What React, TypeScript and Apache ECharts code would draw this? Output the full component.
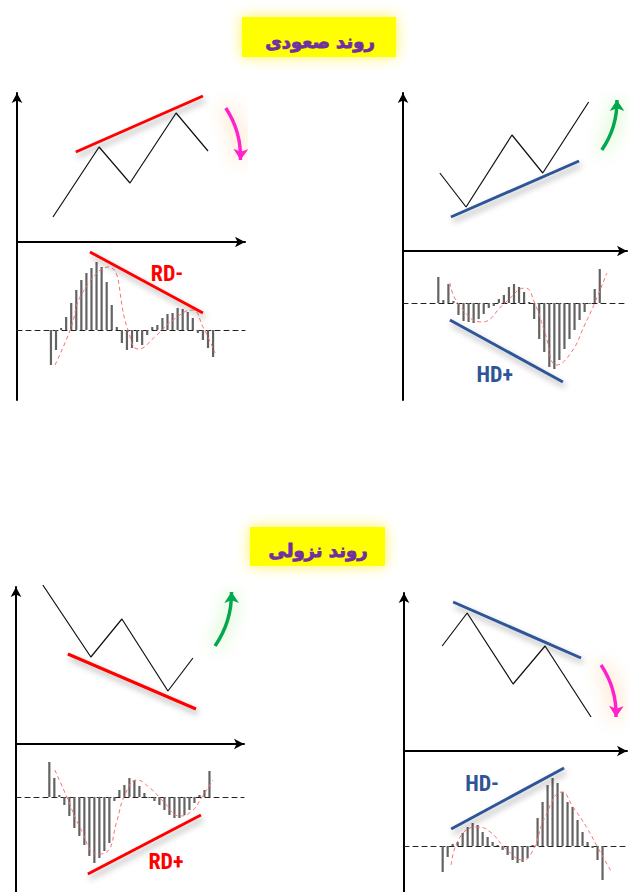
import React, { useEffect, useRef } from 'react';
import * as echarts from 'echarts';

// ---------- Panel 1 : uptrend, regular bearish divergence (RD-) ----------
const PRICE1_X = [0.4, 9.5, 15.6, 24.7, 31.0];
const PRICE1_Y = [25, 95, 59, 129, 91];
const TREND1_X = [4.9, 30.0];
const TREND1_Y = [90, 146];
const HIST1 = [-35, -20, 2, 13, 27, 40, 50, 57, 62, 68, 63, 48, 25, 3, -13, -20, -18, -12, -15, -5, 3, 5, 12, 16, 17, 22, 21, 18, 12, -3, -10, -18, -27];
const CURVE1_X = [0.8, 3.8, 6.3, 11.3, 15.2, 17.2, 20.9, 24.1, 27.9, 30.0, 32.4];
const CURVE1_Y = [-35, 0, 38, 63, 0, -19, -5, 10, 20, 3, -23];
const DIV1_X = [7.7, 30.0];
const DIV1_Y = [78, 17];
const ARROW1_X = [34.5, 37.4];
const ARROW1_Y = [134, 82];
const LABEL1 = { text: 'RD-', x: 22.9, y: 57 };

// ---------- Panel 2 : uptrend, hidden bullish divergence (HD+) ----------
const PRICE2_X = [0.3, 5.5, 14.6, 20.7, 29.8];
const PRICE2_Y = [78, 44, 116, 78, 149];
const TREND2_X = [2.5, 27.9];
const TREND2_Y = [34, 90];
const HIST2 = [26, 3, 19, 2, -12, -18, -19, -20, -16, -11, -5, -3, 4, 8, 16, 19, 16, 11, 1, -16, -36, -49, -64, -66, -57, -46, -36, -27, -17, -9, -1, 14, 34];
const CURVE2_X = [2.3, 3.9, 8.6, 13.2, 17.2, 19.1, 21.1, 23.5, 26.4, 29.0, 31.0, 33.4];
const CURVE2_Y = [20, 0, -19, 0, 15, 0, -29, -62, -49, -22, 0, 30];
const DIV2_X = [2.3, 24.7];
const DIV2_Y = [-17, -79];
const ARROW2_X = [32.4, 35.4];
const ARROW2_Y = [101, 151];
const LABEL2 = { text: 'HD+', x: 11.2, y: -71 };

// ---------- Panel 3 : downtrend, regular bullish divergence (RD+) ----------
const PRICE3_X = [-1.3, 8.3, 14.5, 23.7, 28.7];
const PRICE3_Y = [159, 87, 125, 53, 86];
const TREND3_X = [3.7, 29.3];
const TREND3_Y = [90, 35];
const HIST3 = [35, 19, 2, -8, -19, -31, -39, -48, -59, -66, -61, -54, -46, -4, 7, 12, 19, 17, 11, 4, -1, -4, -8, -13, -18, -21, -21, -18, -13, -6, 2, 7, 26];
const CURVE3_X = [1.1, 3.5, 6.1, 9.7, 11.5, 13.5, 15.1, 17.5, 20.1, 22.7, 26.1, 28.5, 30.5, 32.7];
const CURVE3_Y = [27, 0, -30, -57, -55, -24, 2, 17, 9, -4, -19, -14, 0, 17];
const DIV3_X = [7.7, 30.3];
const DIV3_Y = [-77, -18];
const ARROW3_X = [33.1, 36.4];
const ARROW3_Y = [98, 152];
const LABEL3 = { text: 'RD+', x: 23.3, y: -64 };

// ---------- Panel 4 : downtrend, hidden bearish divergence (HD-) ----------
const PRICE4_X = [-0.1, 4.9, 14.1, 20.5, 29.7];
const PRICE4_Y = [105, 138, 67, 105, 34];
const TREND4_X = [2.1, 27.7];
const TREND4_Y = [149, 93];
const HIST4 = [-26, -11, 2, 4, 13, 19, 23, 21, 14, 9, 4, 1, -4, -9, -14, -17, -16, -12, 1, 28, 44, 61, 68, 63, 54, 44, 39, 26, 14, 4, -2, -14, -34];
const CURVE4_X = [1.7, 3.5, 6.9, 9.5, 12.9, 16.1, 18.1, 20.5, 23.9, 26.1, 28.9, 31.1, 33.9];
const CURVE4_Y = [-19, 9, 19, 14, -4, -14, -4, 29, 54, 39, 18, -2, -27];
const DIV4_X = [1.7, 24.3];
const DIV4_Y = [17, 78];
const ARROW4_X = [31.7, 34.7];
const ARROW4_Y = [86, 34];
const LABEL4 = { text: 'HD-', x: 7.9, y: 63 };

const TITLES = ['روند صعودی', 'روند نزولی'];

const RED = '#ff0000';
const BLUE = '#2f5597';
const PINK = '#ff22cc';
const GREEN = '#00a84f';

const zip = (xs: number[], ys: number[]) => xs.map((x, i) => [x, ys[i]]);

const PANELS = [
  {
    layout: { left: 17, axisEnd: 250, tip: 88, mid: 242, bottom: 400 },
    xMin: -6.7, xMax: 38.3, upMax: 149, lowMin: -70, lowMax: 88,
    price: zip(PRICE1_X, PRICE1_Y), trend: zip(TREND1_X, TREND1_Y), hist: HIST1,
    curve: zip(CURVE1_X, CURVE1_Y), div: zip(DIV1_X, DIV1_Y), arrow: zip(ARROW1_X, ARROW1_Y),
    label: LABEL1, lineColor: RED, arrowColor: PINK, glow: 'rgba(255,160,60,0.95)', curveness: 0.16,
  },
  {
    layout: { left: 403, axisEnd: 632, tip: 88, mid: 251, bottom: 400 },
    xMin: -7.0, xMax: 37.4, upMax: 158, lowMin: -97, lowMax: 52,
    price: zip(PRICE2_X, PRICE2_Y), trend: zip(TREND2_X, TREND2_Y), hist: HIST2,
    curve: zip(CURVE2_X, CURVE2_Y), div: zip(DIV2_X, DIV2_Y), arrow: zip(ARROW2_X, ARROW2_Y),
    label: LABEL2, lineColor: BLUE, arrowColor: GREEN, glow: 'rgba(130,230,100,0.95)', curveness: -0.16,
  },
  {
    layout: { left: 16, axisEnd: 249, tip: 582, mid: 744, bottom: 892 },
    xMin: -6.66, xMax: 38.9, upMax: 157, lowMin: -95, lowMax: 53,
    price: zip(PRICE3_X, PRICE3_Y), trend: zip(TREND3_X, TREND3_Y), hist: HIST3,
    curve: zip(CURVE3_X, CURVE3_Y), div: zip(DIV3_X, DIV3_Y), arrow: zip(ARROW3_X, ARROW3_Y),
    label: LABEL3, lineColor: RED, arrowColor: GREEN, glow: 'rgba(130,230,100,0.95)', curveness: -0.16,
  },
  {
    layout: { left: 404, axisEnd: 632, tip: 588, mid: 751, bottom: 892 },
    xMin: -7.74, xMax: 36.9, upMax: 158, lowMin: -46, lowMax: 95,
    price: zip(PRICE4_X, PRICE4_Y), trend: zip(TREND4_X, TREND4_Y), hist: HIST4,
    curve: zip(CURVE4_X, CURVE4_Y), div: zip(DIV4_X, DIV4_Y), arrow: zip(ARROW4_X, ARROW4_Y),
    label: LABEL4, lineColor: BLUE, arrowColor: PINK, glow: 'rgba(255,160,60,0.95)', curveness: 0.16,
  },
];

const hidden = {
  axisTick: { show: false },
  axisLabel: { show: false },
  splitLine: { show: false },
};

function buildOption() {
  const grid: any[] = [];
  const xAxis: any[] = [];
  const yAxis: any[] = [];
  const series: any[] = [];

  PANELS.forEach((p, k) => {
    const L = p.layout;
    const up = 2 * k;
    const lo = 2 * k + 1;
    const width = L.axisEnd - 5 - L.left;
    grid.push({ left: L.left, top: L.tip + 5, width, height: L.mid - L.tip - 5 });
    grid.push({ left: L.left, top: L.mid, width, height: L.bottom - L.mid });

    xAxis.push({
      type: 'value', gridIndex: up, min: p.xMin, max: p.xMax, position: 'bottom',
      axisLine: { show: true, onZero: false, symbol: ['none', 'arrow'], symbolSize: [8, 10], lineStyle: { color: '#000', width: 2 } },
      ...hidden,
    });
    xAxis.push({
      type: 'value', gridIndex: lo, min: p.xMin, max: p.xMax,
      axisLine: { show: true, onZero: true, lineStyle: { color: '#222', width: 1, type: [5, 4] } },
      ...hidden,
    });
    yAxis.push({
      type: 'value', gridIndex: up, min: 0, max: p.upMax,
      axisLine: { show: true, onZero: false, symbol: ['none', 'arrow'], symbolSize: [8, 10], lineStyle: { color: '#000', width: 2 } },
      ...hidden,
    });
    yAxis.push({
      type: 'value', gridIndex: lo, min: p.lowMin, max: p.lowMax,
      axisLine: { show: true, onZero: false, lineStyle: { color: '#000', width: 2 } },
      ...hidden,
    });

    const shadow = { shadowColor: 'rgba(0,0,0,0.35)', shadowBlur: 6, shadowOffsetX: 2, shadowOffsetY: 4 };

    series.push({
      type: 'line', xAxisIndex: up, yAxisIndex: up, data: p.price, symbol: 'none', clip: false,
      lineStyle: { color: '#111', width: 1.2 }, z: 3,
    });
    series.push({
      type: 'line', xAxisIndex: up, yAxisIndex: up, data: p.trend, symbol: 'none', clip: false,
      lineStyle: { color: p.lineColor, width: 3, ...shadow }, z: 4,
    });
    series.push({
      type: 'lines', coordinateSystem: 'cartesian2d', xAxisIndex: up, yAxisIndex: up,
      data: [{ coords: p.arrow }], symbol: ['none', 'arrow'], symbolSize: [9, 11],
      lineStyle: { color: p.arrowColor, width: 3.5, opacity: 1, curveness: p.curveness, shadowColor: p.glow, shadowBlur: 18 },
      z: 5,
    });
    series.push({
      type: 'bar', xAxisIndex: lo, yAxisIndex: lo, data: p.hist.map((v, i) => [i, v]),
      barWidth: 2.2, itemStyle: { color: '#636363' }, z: 2,
    });
    series.push({
      type: 'line', xAxisIndex: lo, yAxisIndex: lo, data: p.curve, symbol: 'none', smooth: 0.5, clip: false,
      lineStyle: { color: '#ff6f6f', width: 1, type: [4, 3] }, z: 3,
    });
    series.push({
      type: 'line', xAxisIndex: lo, yAxisIndex: lo, data: p.div, symbol: 'none', clip: false,
      lineStyle: { color: p.lineColor, width: 3, ...shadow }, z: 4,
    });
    series.push({
      type: 'scatter', xAxisIndex: lo, yAxisIndex: lo, data: [[p.label.x, p.label.y]], symbolSize: 0,
      label: {
        show: true, position: 'inside', formatter: p.label.text, color: p.lineColor, opacity: 1,
        fontSize: 22, fontWeight: 'bold',
        fontFamily: "'Liberation Sans Narrow', 'Roboto Condensed', 'Liberation Sans', sans-serif",
      },
      z: 5,
    });
  });

  const titleFont = "bold 18px 'DejaVu Sans', 'Noto Sans', sans-serif";
  const titleStyle = {
    fill: '#7030a0', stroke: '#7030a0', lineWidth: 0.9, font: titleFont, align: 'center', verticalAlign: 'middle',
    shadowBlur: 2, shadowColor: 'rgba(0,0,0,0.45)', shadowOffsetX: 1, shadowOffsetY: 2,
  };
  const graphic = [
    { type: 'rect', shape: { x: 242, y: 17, width: 154, height: 40 }, style: { fill: '#ffff00', shadowBlur: 14, shadowColor: 'rgba(255,240,60,0.9)' }, z: 10 },
    { type: 'text', x: 320, y: 41, style: { text: TITLES[0], ...titleStyle }, z: 11 },
    { type: 'rect', shape: { x: 250, y: 527, width: 135, height: 39 }, style: { fill: '#ffff00', shadowBlur: 14, shadowColor: 'rgba(255,240,60,0.9)' }, z: 10 },
    { type: 'text', x: 318, y: 550, style: { text: TITLES[1], ...titleStyle }, z: 11 },
  ];

  return { animation: false, backgroundColor: '#ffffff', grid, xAxis, yAxis, series, graphic };
}

export default function App() {
  const ref = useRef<HTMLDivElement>(null);
  useEffect(() => {
    const chart = echarts.init(ref.current as HTMLDivElement, null, { renderer: 'svg' });
    chart.setOption(buildOption() as any);
    return () => chart.dispose();
  }, []);
  return (
    <div
      ref={ref}
      style={{ position: 'fixed', left: 0, top: 0, width: 629, height: 892, background: '#fff' }}
    />
  );
}
